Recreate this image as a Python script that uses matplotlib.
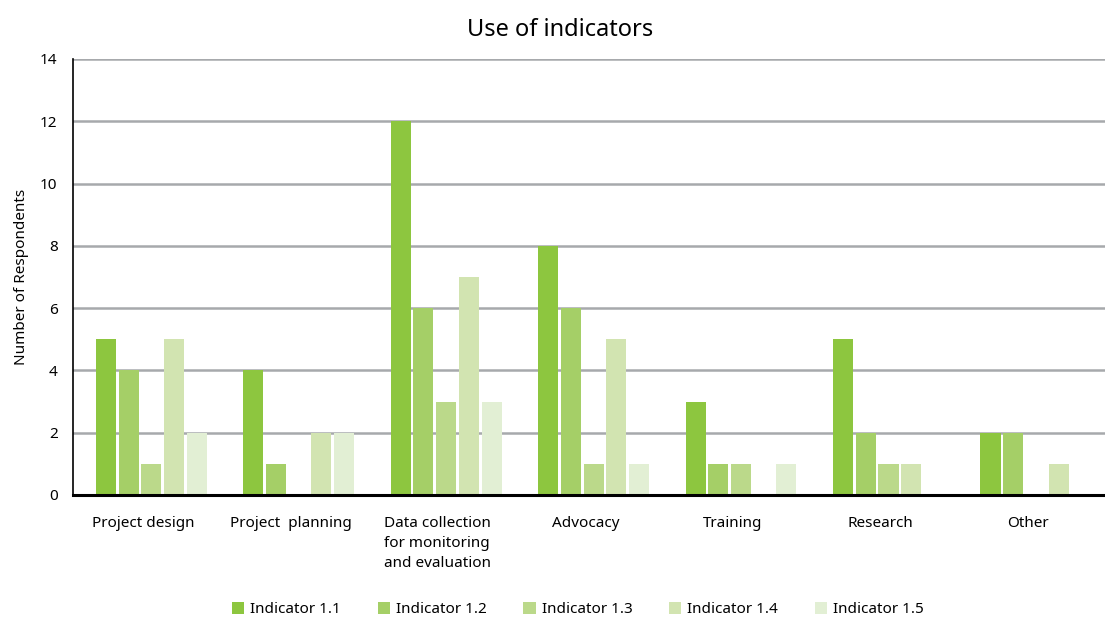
import matplotlib
matplotlib.use("Agg")
import matplotlib.pyplot as plt
import numpy as np

categories = ["Project design", "Project  planning", "Data collection\nfor monitoring\nand evaluation",
              "Advocacy", "Training", "Research", "Other"]
series_names = ["Indicator 1.1", "Indicator 1.2", "Indicator 1.3", "Indicator 1.4", "Indicator 1.5"]
ind_1_1 = [5, 4, 12, 8, 3, 5, 2]
ind_1_2 = [4, 1, 6, 6, 1, 2, 2]
ind_1_3 = [1, 0, 3, 1, 1, 1, 0]
ind_1_4 = [5, 2, 7, 5, 0, 1, 1]
ind_1_5 = [2, 2, 3, 1, 1, 0, 0]
series = [ind_1_1, ind_1_2, ind_1_3, ind_1_4, ind_1_5]
colors = ["#8dc63f", "#a5cf67", "#bbd98a", "#d2e4b1", "#e2efd4"]
yticks = [0, 2, 4, 6, 8, 10, 12, 14]

plt.rcParams['font.family'] = ['Noto Sans', 'DejaVu Sans']

fig = plt.figure(figsize=(11.05, 6.21), dpi=100)
ax = fig.add_axes([0.066, 0.203, 0.934, 0.702])

x = np.arange(len(categories))
step = 0.154
width = 0.136
offset0 = 0.0315
for k, (vals, c, name) in enumerate(zip(series, colors, series_names)):
    pos = x + offset0 + (k - 2) * step
    ax.bar(pos, vals, width=width, color=c, label=name, zorder=3)

ax.set_xlim(-0.5, len(categories) - 0.5)
ax.set_ylim(0, 14)
ax.set_yticks(yticks)
ax.set_yticklabels([str(t) for t in yticks], fontsize=11)
ax.set_xticks(x - 0.025)
ax.set_xticklabels(categories, fontsize=11, linespacing=1.45)
ax.tick_params(axis='both', length=0)
ax.tick_params(axis='y', pad=11)
ax.tick_params(axis='x', pad=15)
for lbl in ax.get_xticklabels():
    lbl.set_horizontalalignment('center')
    lbl.set_multialignment('left')

ax.yaxis.grid(True, color="#a7a9ac", linewidth=1.8, zorder=0)
ax.set_axisbelow(True)
for s in ['top', 'right']:
    ax.spines[s].set_visible(False)
ax.spines['left'].set_color('black')
ax.spines['left'].set_linewidth(1.2)
ax.spines['bottom'].set_color('black')
ax.spines['bottom'].set_linewidth(2.2)
ax.spines['bottom'].set_zorder(4)

ax.set_ylabel("Number of Respondents", fontsize=11, labelpad=8)
fig.text(0.507, 0.951, "Use of indicators", ha='center', va='center', fontsize=17)

leg = fig.legend(loc='center', bbox_to_anchor=(0.523, 0.018), ncol=5, frameon=False,
                 fontsize=11, handlelength=0.8, handleheight=0.8, handletextpad=0.4,
                 columnspacing=2.4, borderaxespad=0)
fig.savefig("out.png", dpi=100)
